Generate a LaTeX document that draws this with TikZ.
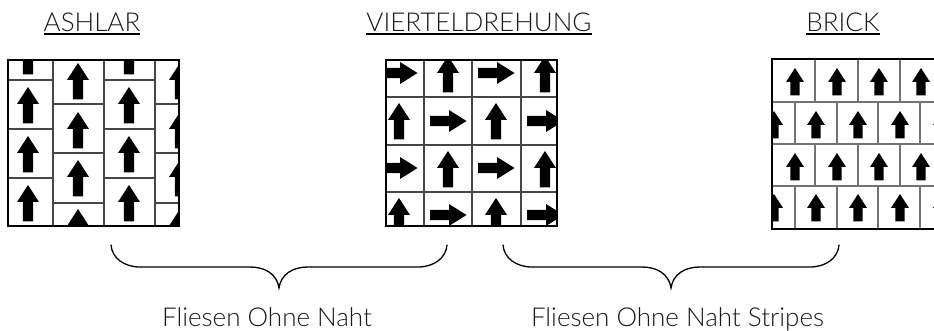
\documentclass[tikz,border=0pt]{standalone}
\usepackage{fontspec}
\setmainfont{Lato Light}
\definecolor{labelgray}{gray}{0.1}
\definecolor{tileline}{gray}{0.28}
\definecolor{brickline}{gray}{0.45}
\tikzset{
  x=1pt,y=-1pt,
  frame/.style={draw=black,line width=2pt},
  tile/.style={draw=tileline,line width=1.4pt},
  bricktile/.style={draw=brickline,line width=1.3pt},
  bracepath/.style={draw=black,line width=1.3pt,line cap=round},
  lab/.style={font=\fontsize{26}{30}\selectfont,text=labelgray,inner sep=0pt,anchor=base},
}
\newcommand{\heading}[1]{\setbox0\hbox{#1}\leavevmode\rlap{\color{black}\rule[-2.8pt]{\wd0}{1.7pt}}\box0}
% big arrows: \upa{x}{tip y}  \ria{left x}{centre y}
\newcommand{\upa}[2]{\fill (#1-5.2,#2+36.5) -- (#1-5.2,#2+17) -- (#1-11,#2+17) -- (#1,#2) -- (#1+11,#2+17) -- (#1+5.2,#2+17) -- (#1+5.2,#2+36.5) -- cycle;}
\newcommand{\ria}[2]{\fill (#1,#2-5.2) -- (#1+19,#2-5.2) -- (#1+19,#2-11) -- (#1+36.5,#2) -- (#1+19,#2+11) -- (#1+19,#2+5.2) -- (#1,#2+5.2) -- cycle;}
% small arrows
\newcommand{\upb}[2]{\fill (#1-4.6,#2+27.5) -- (#1-4.6,#2+14) -- (#1-9,#2+14) -- (#1,#2) -- (#1+9,#2+14) -- (#1+4.6,#2+14) -- (#1+4.6,#2+27.5) -- cycle;}
\begin{document}
\begin{tikzpicture}
\useasboundingbox (0,0) rectangle (934,331);
% ASHLAR
\begin{scope}
\clip (8,60) rectangle (179,226);
\foreach \x in {53,104,155} \draw[tile] (\x,60) -- (\x,226);
\foreach \y in {80,129,178} {\draw[tile] (8,\y) -- (53,\y); \draw[tile] (104,\y) -- (155,\y);}
\foreach \y in {104,153,203} {\draw[tile] (53,\y) -- (104,\y); \draw[tile] (155,\y) -- (179,\y);}
\foreach \y in {38,87,136,185} {\upa{28}{\y} \upa{129}{\y}}
\foreach \y in {63,112,160,209} {\upa{78}{\y} \upa{180}{\y}}
\end{scope}
\draw[frame] (8,60) rectangle (179,226);
% VIERTELDREHUNG
\begin{scope}
\clip (386,60) rectangle (557,226);
\foreach \x in {424,472,521} \draw[tile] (\x,60) -- (\x,226);
\foreach \y in {97,145,192} \draw[tile] (386,\y) -- (557,\y);
\foreach \y in {73,168} {\ria{381}{\y} \ria{478}{\y}}
\foreach \y in {56,151} {\upa{448}{\y} \upa{545}{\y}}
\foreach \y in {103,198} {\upa{399}{\y} \upa{496}{\y}}
\foreach \y in {121,215} {\ria{430}{\y} \ria{527}{\y}}
\end{scope}
\draw[frame] (386,60) rectangle (557,226);
% BRICK
\begin{scope}
\clip (772,59) rectangle (934,229);
\foreach \x in {815,858,900} {\draw[bricktile] (\x,59) -- (\x,102); \draw[bricktile] (\x,144) -- (\x,186);}
\foreach \x in {795,837,878,920} {\draw[bricktile] (\x,102) -- (\x,144); \draw[bricktile] (\x,186) -- (\x,229);}
\foreach \y in {102,144,186} \draw[bricktile] (772,\y) -- (934,\y);
\foreach \y in {68,153} \foreach \x in {795,837,879,921} {\upb{\x}{\y}}
\foreach \y in {111,194} \foreach \x in {774,816,858,900,942} {\upb{\x}{\y}}
\end{scope}
\draw[frame] (934,59) -- (772,59) -- (772,229) -- (934,229);
% labels
\node[lab] (ashlar) at (92,32) {\heading{ASHLAR}};
\node[lab] (viertel) at (479,32) {\heading{VIERTELDREHUNG}};
\node[lab] (brick) at (843,32) {\heading{BRICK}};
\node[lab] (fon) at (267,326) {Fliesen Ohne Naht};
\node[lab] (fons) at (677.5,326) {Fliesen Ohne Naht Stripes};
% braces
\draw[bracepath] (111,245) .. controls (112,258) and (124,267) .. (140,267) -- (250,267) .. controls (265,267) and (277,274) .. (279,288) .. controls (281,274) and (293,267) .. (308,267) -- (418,267) .. controls (434,267) and (446,258) .. (447,245);
\draw[bracepath] (503,245) .. controls (504,258) and (516,267) .. (532,267) -- (642,267) .. controls (657,267) and (669,274) .. (671,288) .. controls (673,274) and (685,267) .. (700,267) -- (810,267) .. controls (826,267) and (838,258) .. (839,245);
\end{tikzpicture}
\end{document}
